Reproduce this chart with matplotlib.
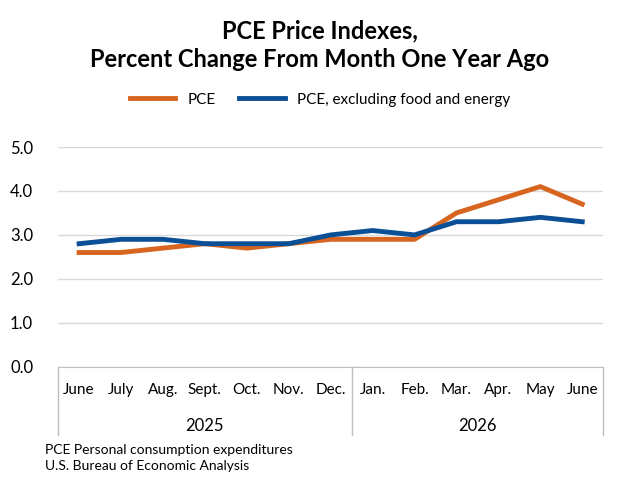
import matplotlib.pyplot as plt

months = ["June", "July", "Aug.", "Sept.", "Oct.", "Nov.", "Dec.",
          "Jan.", "Feb.", "Mar.", "Apr.", "May", "June"]
years = ["2025", "2026"]
pce = [2.6, 2.6, 2.7, 2.8, 2.7, 2.8, 2.9, 2.9, 2.9, 3.5, 3.8, 4.1, 3.7]
core = [2.8, 2.9, 2.9, 2.8, 2.8, 2.8, 3.0, 3.1, 3.0, 3.3, 3.3, 3.4, 3.3]

plt.rcParams['font.family'] = ['Lato', 'DejaVu Sans']

fig = plt.figure(figsize=(6.39, 4.95), dpi=100)
ax = fig.add_axes([0.091, 0.259, 0.853, 0.444])
x = list(range(len(months)))
ax.plot(x, pce, color="#D8651F", lw=3.5, label="PCE")
ax.plot(x, core, color="#0B4F96", lw=3.5, label="PCE, excluding food and energy")
ax.set_xlim(-0.5, len(months) - 0.5)
ax.set_ylim(0, 5)
ax.set_yticks([0, 1, 2, 3, 4, 5])
ax.set_yticklabels([f"{v:.1f}" for v in range(6)], fontsize=12)
ax.grid(axis="y", color="#d9d9d9", lw=1)
ax.set_axisbelow(True)
for s in ["top", "right", "left"]:
    ax.spines[s].set_visible(False)
ax.spines["bottom"].set_color("#bfbfbf")
ax.tick_params(axis="y", length=0, pad=18)
ax.set_xticks(x)
ax.set_xticklabels(months, fontsize=11)
ax.tick_params(axis="x", length=0, pad=12)

# year group separators and labels
trans = ax.get_xaxis_transform()
for xv in [-0.5, 6.5, 12.5]:
    ax.plot([xv, xv], [0, -0.31], transform=trans, color="#bfbfbf", lw=1, clip_on=False)
ax.text(3, -0.27, years[0], transform=trans, ha="center", va="center", fontsize=12)
ax.text(9.5, -0.27, years[1], transform=trans, ha="center", va="center", fontsize=12)

fig.text(0.5, 0.96, "PCE Price Indexes,\nPercent Change From Month One Year Ago",
         ha="center", va="top", fontsize=17, fontweight="bold", linespacing=1.25)
ax.legend(loc="upper center", bbox_to_anchor=(0.48, 1.31), ncol=2, frameon=False,
          fontsize=11, handlelength=3, columnspacing=1.5)
fig.text(0.07, 0.075, "PCE Personal consumption expenditures\nU.S. Bureau of Economic Analysis",
         ha="left", va="center", fontsize=10, linespacing=1.4)
fig.savefig("out.png", dpi=100)
